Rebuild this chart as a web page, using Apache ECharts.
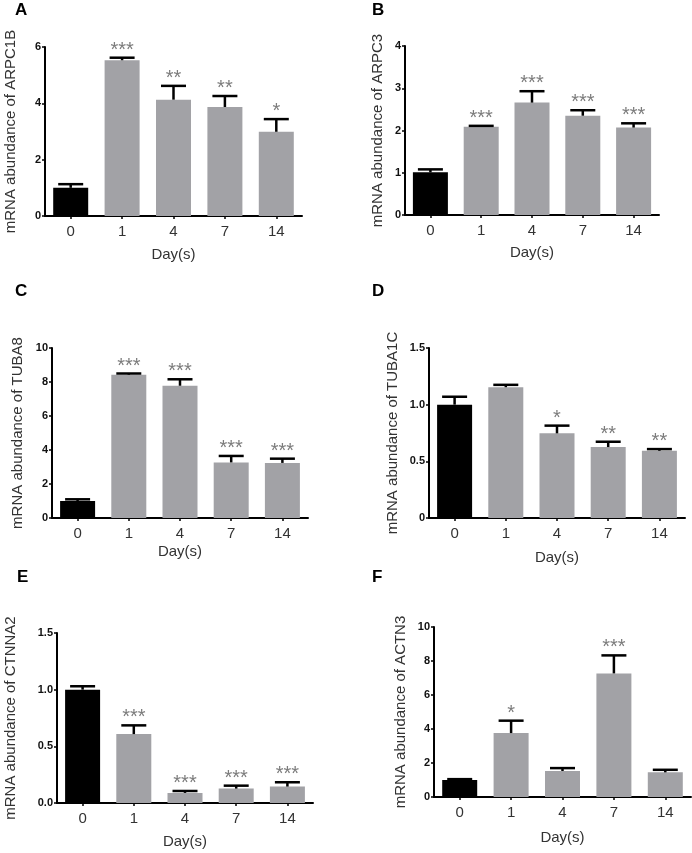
<!DOCTYPE html>
<html>
<head>
<meta charset="utf-8">
<script src="https://cdn.jsdelivr.net/npm/echarts@6/dist/echarts.min.js"></script>
<style>
html,body{margin:0;padding:0;background:#fff;}
#c{width:692px;height:853px;}
</style>
</head>
<body>
<div id="c"></div>
<script>
// ---- data ----
var days = ['0', '1', '4', '7', '14'];

var genesA = 'ARPC1B';
var meanA = [1.0, 5.53, 4.13, 3.87, 2.99];
var errA = [0.13, 0.09, 0.49, 0.39, 0.45];
var starsA = ['', '***', '**', '**', '*'];

var genesB = 'ARPC3';
var meanB = [1.01, 2.09, 2.66, 2.35, 2.07];
var errB = [0.07, 0.02, 0.27, 0.13, 0.10];
var starsB = ['', '***', '***', '***', '***'];

var genesC = 'TUBA8';
var meanC = [1.0, 8.43, 7.78, 3.27, 3.24];
var errC = [0.1, 0.07, 0.38, 0.38, 0.25];
var starsC = ['', '***', '***', '***', '***'];

var genesD = 'TUBA1C';
var meanD = [1.0, 1.154, 0.747, 0.626, 0.593];
var errD = [0.07, 0.021, 0.068, 0.047, 0.015];
var starsD = ['', '', '*', '**', '**'];

var genesE = 'CTNNA2';
var meanE = [1.0, 0.608, 0.089, 0.127, 0.145];
var errE = [0.03, 0.077, 0.017, 0.026, 0.038];
var starsE = ['', '***', '***', '***', '***'];

var genesF = 'ACTN3';
var meanF = [1.0, 3.76, 1.53, 7.27, 1.45];
var errF = [0.05, 0.73, 0.17, 1.06, 0.15];
var starsF = ['', '*', '', '***', ''];

var yMaxA = 6, yStepA = 2;
var yMaxB = 4, yStepB = 1;
var yMaxC = 10, yStepC = 2;
var yMaxD = 1.5, yStepD = 0.5;
var yMaxE = 1.5, yStepE = 0.5;
var yMaxF = 10, yStepF = 2;

var panelLetters = ['A', 'B', 'C', 'D', 'E', 'F'];

// ---- layout ----
var FONT = 'Liberation Sans, Arial, sans-serif';
var panels = [
  {gene: genesA, mean: meanA, err: errA, stars: starsA, max: yMaxA, step: yStepA, fmt: function(v){return String(v);},
   grid: {left: 45, top: 47, width: 257, height: 169}, yGap: 27, xGap: 31, letter: [15, 2]},
  {gene: genesB, mean: meanB, err: errB, stars: starsB, max: yMaxB, step: yStepB, fmt: function(v){return String(v);},
   grid: {left: 405, top: 46, width: 254, height: 169}, yGap: 20, xGap: 30, letter: [372, 2]},
  {gene: genesC, mean: meanC, err: errC, stars: starsC, max: yMaxC, step: yStepC, fmt: function(v){return String(v);},
   grid: {left: 52, top: 348, width: 256, height: 170}, yGap: 27, xGap: 26, letter: [15, 283]},
  {gene: genesD, mean: meanD, err: errD, stars: starsD, max: yMaxD, step: yStepD, fmt: function(v){return v === 0 ? '0' : v.toFixed(1);},
   grid: {left: 429, top: 348, width: 256, height: 170}, yGap: 29, xGap: 32, letter: [372, 283]},
  {gene: genesE, mean: meanE, err: errE, stars: starsE, max: yMaxE, step: yStepE, fmt: function(v){return v.toFixed(1);},
   grid: {left: 57, top: 633, width: 256, height: 170}, yGap: 39, xGap: 31, letter: [17, 569]},
  {gene: genesF, mean: meanF, err: errF, stars: starsF, max: yMaxF, step: yStepF, fmt: function(v){return String(v);},
   grid: {left: 434, top: 627, width: 257, height: 170}, yGap: 26, xGap: 33, letter: [372, 569]}
];

var BLACK = '#000000', GREY = '#a2a2a6', STAR = '#7c7c7c', TEXT = '#333333';

function makeRender(stars) {
  return function (params, api) {
    var i = api.value(0), m = api.value(1), e = api.value(2);
    var base = api.coord([i, m]);
    var top = api.coord([i, m + e]);
    var hw = 12.5;
    var ch = [
      {type: 'line', shape: {x1: top[0], y1: base[1], x2: top[0], y2: top[1]}, style: {stroke: '#000', lineWidth: 2.5}},
      {type: 'line', shape: {x1: top[0] - hw, y1: top[1], x2: top[0] + hw, y2: top[1]}, style: {stroke: '#000', lineWidth: 2.5}}
    ];
    var s = stars[params.dataIndex];
    if (s) {
      ch.push({type: 'text', style: {text: s, x: top[0], y: top[1] - 7.5, align: 'center', verticalAlign: 'middle',
        font: '20px ' + FONT, fill: STAR}});
    }
    return {type: 'group', children: ch};
  };
}

var grids = [], xAxes = [], yAxes = [], series = [], graphics = [];
panels.forEach(function (p, k) {
  grids.push(p.grid);
  xAxes.push({
    type: 'category', gridIndex: k, data: days,
    name: 'Day(s)', nameLocation: 'middle', nameGap: p.xGap,
    nameTextStyle: {fontFamily: FONT, fontSize: 15, color: TEXT},
    axisLine: {lineStyle: {color: '#000', width: 2}},
    axisTick: {show: true, alignWithLabel: true, length: 3, lineStyle: {color: '#000', width: 1.5}},
    axisLabel: {fontFamily: FONT, fontSize: 15, color: TEXT, margin: 8}
  });
  yAxes.push({
    type: 'value', gridIndex: k, min: 0, max: p.max, interval: p.step,
    name: 'mRNA abundance of ' + p.gene, nameLocation: 'middle', nameGap: p.yGap,
    nameTextStyle: {fontFamily: FONT, fontSize: 15, color: TEXT},
    axisLine: {show: true, lineStyle: {color: '#000', width: 2}},
    axisTick: {show: true, length: 3, lineStyle: {color: '#000', width: 1.5}},
    splitLine: {show: false},
    axisLabel: {fontFamily: FONT, fontSize: 11, fontWeight: 'bold', color: '#111', margin: 4, formatter: p.fmt}
  });
  series.push({
    type: 'bar', xAxisIndex: k, yAxisIndex: k, barWidth: 35,
    data: p.mean.map(function (v, i) { return {value: v, itemStyle: {color: i === 0 ? BLACK : GREY}}; }),
    z: 2
  });
  series.push({
    type: 'custom', xAxisIndex: k, yAxisIndex: k,
    data: p.mean.map(function (v, i) { return [i, v, p.err[i]]; }),
    encode: {x: 0, y: 1},
    renderItem: makeRender(p.stars),
    z: 3
  });
  graphics.push({type: 'text', left: p.letter[0], top: p.letter[1],
    style: {text: panelLetters[k], font: 'bold 17px ' + FONT, fill: '#000'}});
});

var chart = echarts.init(document.getElementById('c'), null, {renderer: 'canvas'});
chart.setOption({
  animation: false,
  backgroundColor: '#ffffff',
  grid: grids, xAxis: xAxes, yAxis: yAxes, series: series,
  graphic: graphics
});
</script>
</body>
</html>
